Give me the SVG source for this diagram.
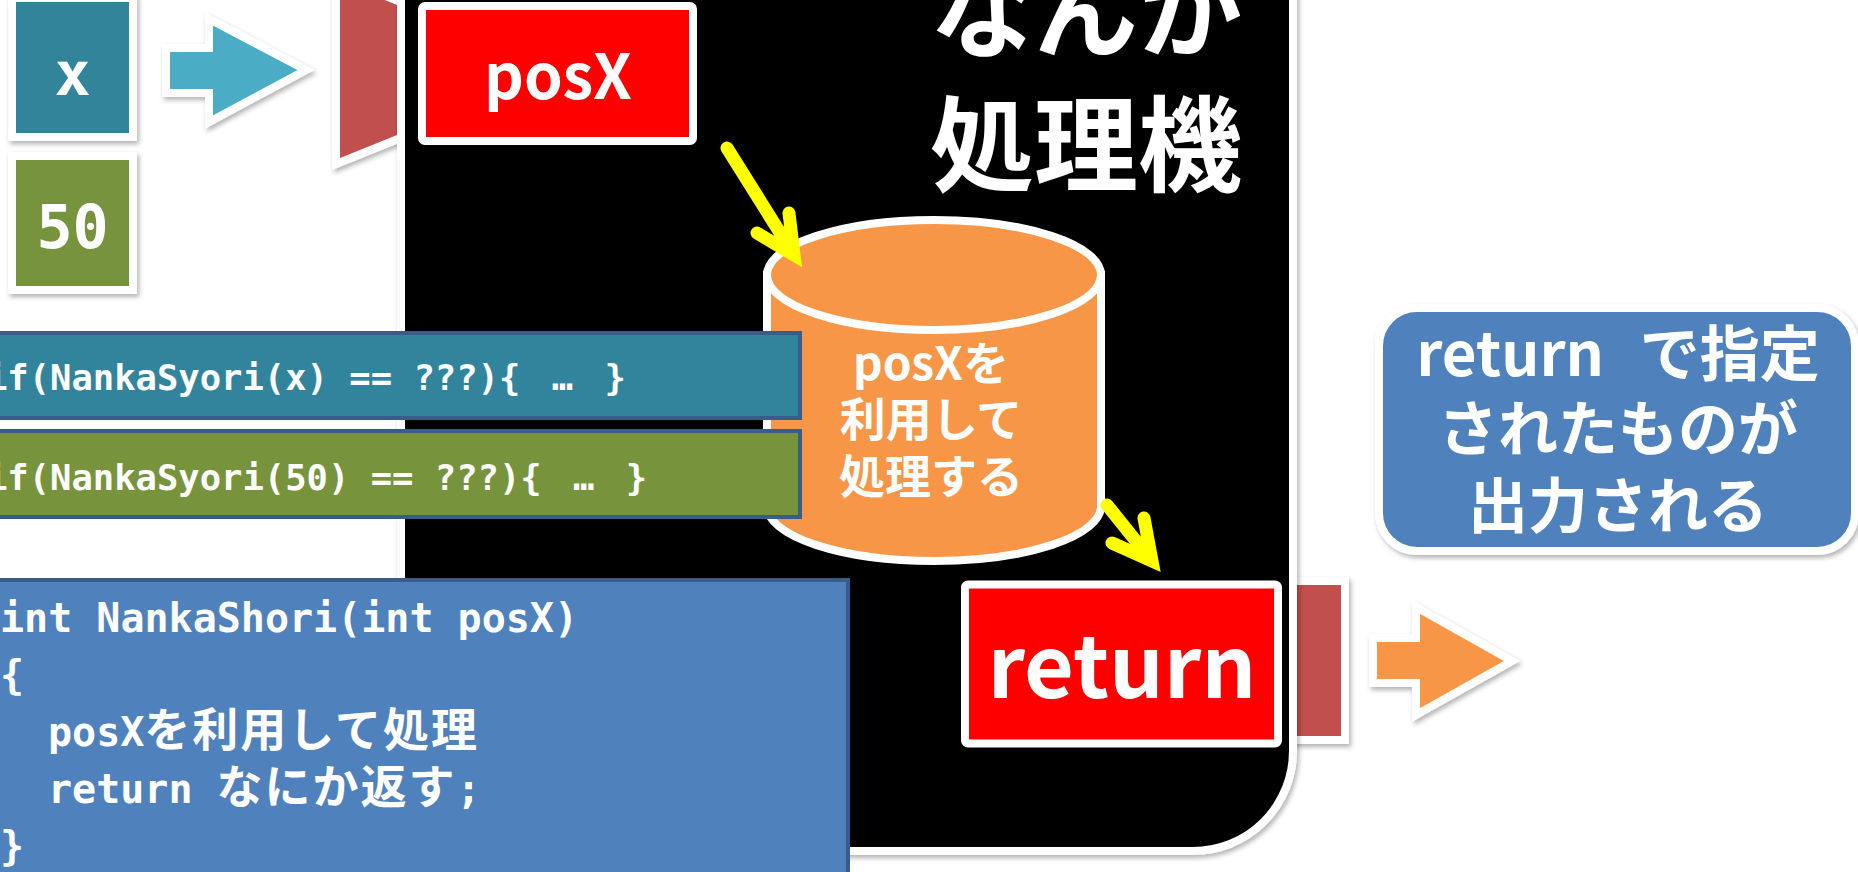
<svg xmlns="http://www.w3.org/2000/svg" width="1858" height="872" viewBox="0 0 1858 872">
<defs>
<filter id="sh" x="-20%" y="-20%" width="140%" height="140%"><feDropShadow dx="2" dy="3" stdDeviation="2.5" flood-color="#000" flood-opacity="0.3"/></filter>
<style>
.wb{stroke:#fff;stroke-width:8;stroke-linejoin:miter}
.jp{font-family:"Noto Sans CJK JP",sans-serif;font-weight:bold;fill:#fff}
.mono{font-family:"DejaVu Sans Mono","Liberation Mono",monospace;font-weight:bold;fill:#fff}
.cjk{font-family:"Noto Sans CJK JP",sans-serif;font-weight:bold}
.code{stroke:#385d8a;stroke-width:4}
.yarrow{fill:none;stroke:#ffff00;stroke-width:13;stroke-linecap:round;stroke-linejoin:miter}
</style>
</defs>
<rect width="1858" height="872" fill="#fff"/>

<g id="input-x">
<rect x="12" y="-2" width="121" height="139" fill="#31849b" class="wb" filter="url(#sh)"/>
<text x="72.5" y="95" class="mono" font-size="60" text-anchor="middle">x</text>
</g>
<g id="input-50">
<rect x="12" y="156" width="121" height="134" fill="#77933c" class="wb" filter="url(#sh)"/>
<text x="72.5" y="248" class="mono" font-size="60" text-anchor="middle">50</text>
</g>

<g id="connectors">
<path d="M166,48 L209,48 L209,19 L306,70 L209,122 L209,93 L166,93 Z" fill="#4bacc6" class="wb" filter="url(#sh)"/>
<path d="M1373,638 L1416,638 L1416,607 L1512,661 L1416,715 L1416,683 L1373,683 Z" fill="#f79646" class="wb" filter="url(#sh)"/>
</g>

<g id="input-slot">
<polygon points="336,-24 440,18 440,122 336,164" fill="#c0504d" class="wb" filter="url(#sh)"/>
</g>
<g id="output-slot">
<rect x="1270" y="581" width="75" height="159" fill="#c0504d" class="wb" filter="url(#sh)"/>
</g>

<g id="machine">
<rect x="401" y="-120" width="892" height="971" rx="100" fill="#000" class="wb" filter="url(#sh)"/>
<text x="930" y="50" class="jp" font-size="104">なんか</text>
<text x="930" y="184" class="jp" font-size="104">処理機</text>
</g>

<g id="posX">
<rect x="422" y="6" width="271" height="135" rx="3" fill="#ff0000" class="wb"/>
<text x="558" y="99" class="jp" font-size="62" text-anchor="middle">posX</text>
</g>

<g id="cylinder">
<path d="M767,275 L767,506 A167,55 0 0 0 1101,506 L1101,275 Z" fill="#f79646" stroke="#fff" stroke-width="8"/>
<ellipse cx="934" cy="275" rx="167" ry="55" fill="#f79646" stroke="#fff" stroke-width="8"/>
<text x="931" y="380" class="jp" font-size="46" text-anchor="middle">posXを</text>
<text x="931" y="436" class="jp" font-size="46" text-anchor="middle">利用して</text>
<text x="931" y="493" class="jp" font-size="46" text-anchor="middle">処理する</text>
</g>

<g id="flow-arrows">
<path class="yarrow" d="M727,148 L794,255 M789,213 L794,255 L757,233"/>
<path class="yarrow" d="M1107,505 L1152,561 M1144,518 L1152,561 L1112,543"/>
</g>

<g id="return-box">
<rect x="965" y="584.5" width="313" height="159" rx="3" fill="#ff0000" class="wb"/>
<text x="1122" y="698" class="jp" font-size="86" text-anchor="middle">return</text>
</g>

<g id="callout">
<rect x="1379" y="308" width="476" height="243" rx="38" fill="#4f81bd" class="wb" filter="url(#sh)"/>
<text x="1618" y="376" class="jp" font-size="60" text-anchor="middle">return<tspan dx="22"> で指定</tspan></text>
<text x="1618" y="451" class="jp" font-size="60" text-anchor="middle">されたものが</text>
<text x="1618" y="528" class="jp" font-size="60" text-anchor="middle">出力される</text>
</g>

<g id="if-x">
<rect x="-10" y="333" width="810" height="85" fill="#31849b" class="code"/>
<text x="-14" y="390" class="mono" font-size="35.5">if(NankaSyori(x) == ???){ <tspan dx="10">…</tspan><tspan dx="10"> }</tspan></text>
</g>
<g id="if-50">
<rect x="-10" y="431" width="810" height="86" fill="#77933c" class="code"/>
<text x="-14" y="490" class="mono" font-size="35.5">if(NankaSyori(50) == ???){ <tspan dx="10">…</tspan><tspan dx="10"> }</tspan></text>
</g>

<g id="function-code">
<rect x="-10" y="580" width="858" height="320" fill="#4f81bd" class="code"/>
<text x="0" y="632" class="mono" font-size="40">int NankaShori(int posX)</text>
<text x="0" y="689" class="mono" font-size="40">{</text>
<text x="48" y="746" class="mono" font-size="40">posX<tspan class="cjk" font-size="46" letter-spacing="2">を利用して処理</tspan></text>
<text x="48" y="803" class="mono" font-size="40">return <tspan class="cjk" font-size="46" letter-spacing="2">なにか返す</tspan>;</text>
<text x="0" y="860" class="mono" font-size="40">}</text>
</g>
</svg>
